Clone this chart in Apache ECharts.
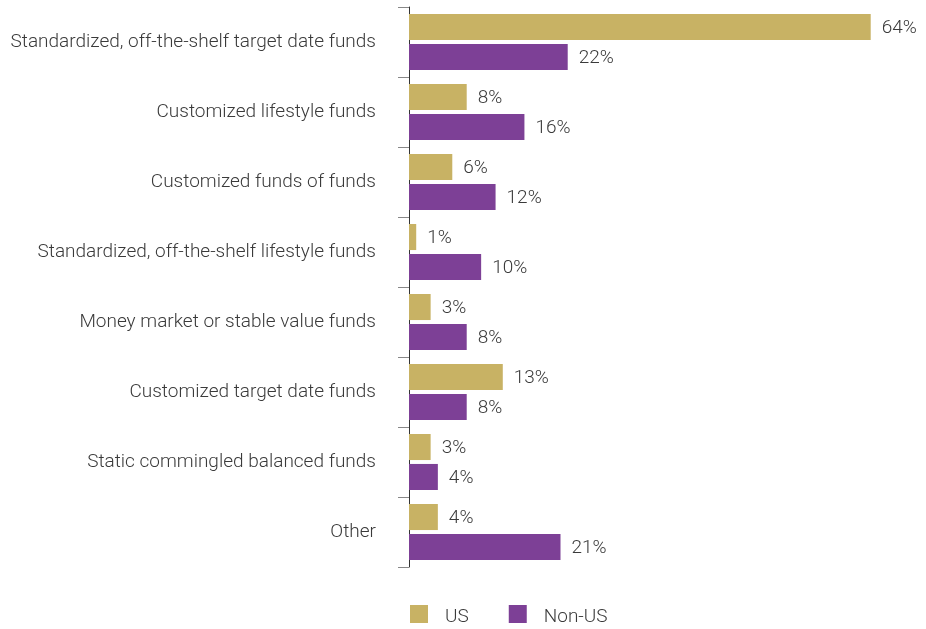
<!DOCTYPE html>
<html>
<head>
<meta charset="utf-8">
<script src="https://cdn.jsdelivr.net/npm/echarts@6/dist/echarts.min.js"></script>
<style>
  html, body { margin: 0; padding: 0; background: #fff; }
  #chart { width: 926px; height: 629px; }
</style>
</head>
<body>
<div id="chart"></div>
<script>
// Fund categories, top to bottom
const categories = [
  'Standardized, off-the-shelf target date funds',
  'Customized lifestyle funds',
  'Customized funds of funds',
  'Standardized, off-the-shelf lifestyle funds',
  'Money market or stable value funds',
  'Customized target date funds',
  'Static commingled balanced funds',
  'Other'
];
// Share of respondents (%)
const usValues = [64, 8, 6, 1, 3, 13, 3, 4];
const nonUsValues = [22, 16, 12, 10, 8, 8, 4, 21];
const seriesNames = ['US', 'Non-US'];

const FONT = 'Roboto, "Liberation Sans", sans-serif';
const TEXT_COLOR = '#3a3a3a';
const chart = echarts.init(document.getElementById('chart'), null, { renderer: 'canvas' });

const valueLabel = {
  show: true,
  position: 'right',
  distance: 11,
  offset: [0, 1.5],
  formatter: p => p.value + '%',
  color: TEXT_COLOR,
  fontFamily: FONT,
  fontSize: 19,
  fontWeight: 300
};

chart.setOption({
  animation: false,
  textStyle: { fontFamily: FONT },
  grid: { left: 409, right: 12, top: 7, bottom: 62, containLabel: false },
  legend: {
    data: seriesNames,
    left: 410,
    top: 605,
    padding: 0,
    itemWidth: 18,
    itemHeight: 18,
    itemGap: 40,
    icon: 'rect',
    formatter: name => '{t|' + name + '}',
    textStyle: {
      color: TEXT_COLOR, fontSize: 19, fontWeight: 300, fontFamily: FONT, padding: [0, 0, 0, 12],
      rich: { t: { color: TEXT_COLOR, fontSize: 19, fontWeight: 300, fontFamily: FONT, padding: [6, 0, 0, 0] } }
    }
  },
  xAxis: {
    type: 'value',
    min: 0,
    max: 70,
    show: false
  },
  yAxis: {
    type: 'category',
    data: categories,
    inverse: true,
    axisLine: { show: true, lineStyle: { color: '#333', width: 1 } },
    axisTick: { show: true, length: 11, lineStyle: { color: '#888' } },
    axisLabel: { color: TEXT_COLOR, fontSize: 19, fontWeight: 300, fontFamily: FONT, margin: 33, padding: [0, 0, 3, 0] }
  },
  series: [
    {
      name: seriesNames[0],
      type: 'bar',
      data: usValues,
      barCategoryGap: '20%',
      barGap: '15%',
      itemStyle: { color: '#C8B264' },
      label: valueLabel
    },
    {
      name: seriesNames[1],
      type: 'bar',
      data: nonUsValues,
      barCategoryGap: '20%',
      barGap: '15%',
      itemStyle: { color: '#7D4096' },
      label: valueLabel
    }
  ]
});
</script>
</body>
</html>
